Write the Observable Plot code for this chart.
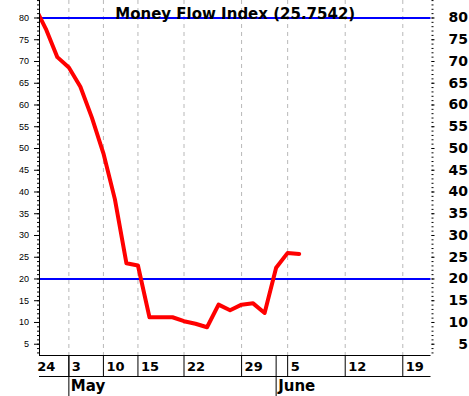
<!DOCTYPE html>
<html><head><meta charset="utf-8">
<script src="https://cdn.jsdelivr.net/npm/d3@7"></script>
<script src="https://cdn.jsdelivr.net/npm/@observablehq/plot@0.6"></script>
<style>body{margin:0;background:#fff}</style>
</head><body><div id="chart"></div>
<script>
// trading-day index of each point (the first lies just left of the visible frame)
const dayIndex = [-1,0,1,2,3,4,5,6,7,8,9,10,11,12,13,14,15,16,17,18,19,20,21,22];
const mfiValues = [82.8,77.5,71.0,68.6,64.2,57.1,48.9,38.3,23.6,23.1,11.2,11.2,11.2,10.3,9.7,8.9,14.1,12.8,14.1,14.4,12.2,22.6,26.0,25.75];
const tickIndex = [-1,2,5,8,12,17,21,26,31];
const tickLabels = ["24","3","10","15","22","29","5","12","19"];
const monthIndex = [2,20];
const monthLabels = ["May","June"];
const levels = [80,20];
const yTicks = d3.range(5,81,5);
const yMinor = d3.range(3,85);
const title = "Money Flow Index (25.7542)";

const W = 469, H = 396, mL = 39, mR = 38.5, mT = 0, mB = 41, rowH = 21;
const xDomain = [-0.55, 33.45], yDomain = [2.41, 84.02];

const data = dayIndex.map((i,k) => ({i, v: mfiValues[k]}));
const ticks = tickIndex.map((i,k) => ({i, label: tickLabels[k]}));
const months = monthIndex.map((i,k) => ({i, label: monthLabels[k]}));
const inDomain = i => i >= xDomain[0] && i <= xDomain[1];
const F = "DejaVu Sans";

const chart = Plot.plot({
  width: W, height: H,
  marginLeft: mL, marginRight: mR, marginTop: mT, marginBottom: mB,
  style: {background: "#fff", color: "#000", fontFamily: F},
  x: {type: "linear", domain: xDomain, label: null},
  y: {domain: yDomain, label: null},
  marks: [
    Plot.ruleX(tickIndex.filter(inDomain), {stroke: "#b8b8b8", strokeDasharray: "4,4"}),
    Plot.ruleY(levels, {stroke: "#0000ff", strokeWidth: 2}),
    Plot.line(data, {x: "i", y: "v", stroke: "#ff0000", strokeWidth: 4, clip: true}),
    Plot.ruleX([xDomain[0]], {stroke: "#000"}),
    Plot.ruleY([yDomain[0]], {stroke: "#000"}),
    Plot.axisY({anchor: "left", ticks: yMinor, tickSize: 2, tickFormat: () => "", label: null}),
    Plot.axisY({anchor: "left", ticks: yTicks, tickSize: 5, tickPadding: 5.5, fontSize: 9, fontFamily: "Liberation Sans", label: null}),
    Plot.axisY({anchor: "right", ticks: yMinor, tickSize: 2, tickFormat: () => "", label: null}),
    Plot.axisY({anchor: "right", ticks: yTicks, tickSize: 3, tickPadding: 34, textAnchor: "end", fontSize: 14, fontWeight: "bold", fontFamily: F, label: null}),
    Plot.axisX({ticks: tickIndex.filter(inDomain), tickSize: rowH, tickFormat: () => "", label: null}),
    Plot.axisX({ticks: monthIndex, tickSize: mB, tickFormat: () => "", label: null}),
    Plot.text(ticks, {x: "i", text: "label", frameAnchor: "bottom", dy: 11.5, dx: 3, textAnchor: "start", lineAnchor: "middle", fontSize: 13, fontWeight: "bold", fontFamily: F, ariaLabel: "day labels"}),
    Plot.text(months, {x: "i", text: "label", frameAnchor: "bottom", dy: 30.5, dx: 2, textAnchor: "start", lineAnchor: "middle", fontSize: 15, fontWeight: "bold", fontFamily: F}),
    (index, scales, values, dims) => {
      const y = dims.height - dims.marginBottom + rowH + 0.5;
      return d3.create("svg:line")
        .attr("x1", dims.marginLeft).attr("x2", dims.width - dims.marginRight)
        .attr("y1", y).attr("y2", y).attr("stroke", "#000").node();
    },
    Plot.text([title], {frameAnchor: "top", dy: 18.5, lineAnchor: "bottom", fontSize: 15, fontWeight: "bold", fontFamily: F})
  ]
});

const svg = d3.select(chart);
svg.append("defs").append("clipPath").attr("id", "dayclip")
  .append("rect").attr("x", mL).attr("y", H - mB).attr("width", W - mL - mR + 1).attr("height", mB);
svg.select('g[aria-label="day labels"]').attr("clip-path", "url(#dayclip)");

document.getElementById("chart").appendChild(chart);
</script>
</body></html>
